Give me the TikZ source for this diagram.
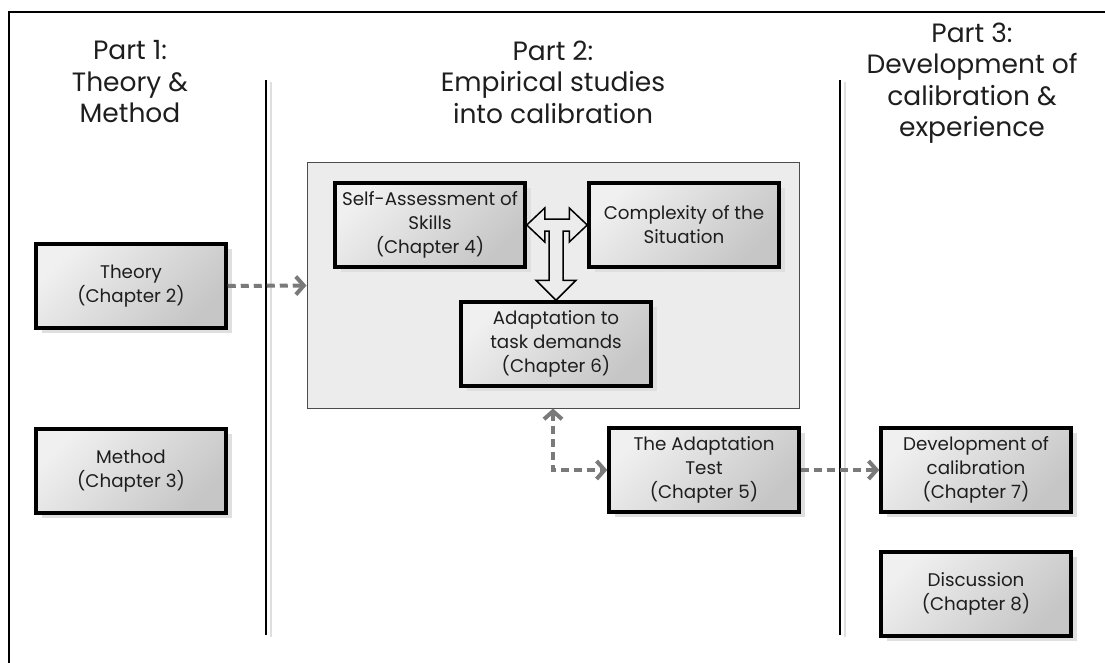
\documentclass[tikz,border=0pt]{standalone}
\usepackage{fontspec}
\setmainfont{Poppins}
\usetikzlibrary{arrows.meta, shadows, calc, positioning}
\definecolor{inktext}{HTML}{1E1E1E}
\definecolor{dashgray}{HTML}{7A7A7A}
\definecolor{panelfill}{HTML}{ECECEC}

\tikzset{
  chapbox/.style={draw=black, line width=3.5pt, minimum width=190pt, minimum height=84pt,
    inner sep=0pt, align=center, text=inktext, font=\fontsize{18.3}{24}\selectfont,
    top color=gray!12, bottom color=gray!45, shading angle=45,
    drop shadow={shadow xshift=6pt, shadow yshift=-5pt, fill=gray!25, opacity=1}},
  parthead/.style={anchor=center, align=center, text=inktext, font=\fontsize{26.5}{31.5}\selectfont},
  dasharr/.style={draw=dashgray, line width=4pt, dash pattern=on 8pt off 5pt,
    -{Straight Barb[length=8pt, width=18pt]}},
  blockarr/.style={draw=black, line width=1.5pt, fill=panelfill, line join=miter},
  sepline/.style={draw=black, line width=1.5pt}
}

\begin{document}
\begin{tikzpicture}[x=1pt, y=-1pt]
  \useasboundingbox (0,0) rectangle (1105,663);
  % frame
  \draw[line width=2pt] (9,663) -- (9,12) -- (1105,12);

  % part headings
  \node[parthead] (p1) at (130,82) {Part 1:\\Theory \&\\Method};
  \node[parthead] (p2) at (553,82) {Part 2:\\Empirical studies\\into calibration};
  \node[parthead] (p3) at (972,83) {Part 3:\\Development of\\calibration \&\\experience};

  % separators
  \draw[gray!25, line width=1.5pt] (271,82) -- (271,637);
  \draw[sepline] (266,80) -- (266,635);
  \draw[gray!25, line width=1.5pt] (845,82) -- (845,637);
  \draw[sepline] (840,80) -- (840,635);

  % part 2 panel
  \node[draw=black!70, line width=1pt, fill=panelfill, minimum width=492pt, minimum height=245pt,
    inner sep=0pt] (panel) at (553,285.5) {};

  \node[chapbox] (theory) at (131,286) {Theory\\(Chapter 2)};
  \node[chapbox] (method) at (131,471) {Method\\(Chapter 3)};
  \node[chapbox] (self) at (430,225) {Self-Assessment of\\Skills\\(Chapter 4)};
  \node[chapbox] (cplx) at (684,225) {Complexity of the\\Situation};
  \node[chapbox] (adapt) at (556,344) {Adaptation to\\task demands\\(Chapter 6)};
  \node[chapbox] (atest) at (704,470) {The Adaptation\\Test\\(Chapter 5)};
  \node[chapbox] (devel) at (976,470) {Development of\\calibration\\(Chapter 7)};
  \node[chapbox] (disc) at (976,594) {Discussion\\(Chapter 8)};

  % block arrows
  \coordinate (jn) at (adapt.north |- self.east);
  \draw[blockarr] (self.east) -- ++(18,-17) -- ++(0,11) -- ($(cplx.west)+(-18,-6)$)
    -- ++(0,-11) -- (cplx.west) -- ++(-18,17) -- ++(0,-11) -- ($(jn)+(7,6)$)
    -- ($(adapt.north)+(7,-20)$) -- ++(13,0) -- (adapt.north) -- ++(-20,-20) -- ++(13,0)
    -- ($(jn)+(-7,6)$) -- ($(self.east)+(18,6)$) -- ++(0,11) -- cycle;

  % dashed links
  \draw[dasharr] (theory.east) -- (panel.west);
  \draw[dasharr, {Straight Barb[length=8pt, width=18pt]}-{Straight Barb[length=8pt, width=18pt]}]
    (panel.south) |- (atest.west);
  \draw[dasharr] (atest.east) -- (devel.west);
\end{tikzpicture}
\end{document}
